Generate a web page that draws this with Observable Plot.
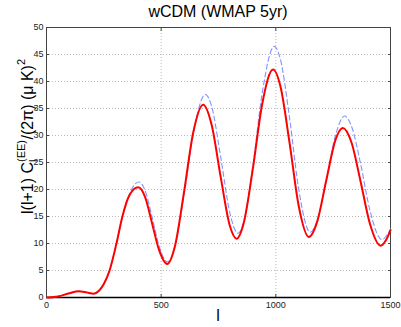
<!DOCTYPE html>
<html>
<head>
<meta charset="utf-8">
<script src="https://cdn.jsdelivr.net/npm/d3@7"></script>
<script src="https://cdn.jsdelivr.net/npm/@observablehq/plot@0.6"></script>
<style>
  body { margin: 0; background: #fff; font-family: "Liberation Sans", Arial, sans-serif; }
  #title { width: 401px; height: 22px; position: relative; }
  #title span { position: absolute; left: 46px; width: 344px; text-align: center; top: 3px; font-size: 16px; color: #000; }
</style>
</head>
<body>
<div id="title"><span>wCDM (WMAP 5yr)</span></div>
<div id="chart"></div>
<script>
// multipole l
const redL = [2, 50, 100, 140, 175, 205, 230, 250, 275, 305, 331, 360, 400, 430, 460, 490, 526, 560, 600, 640, 683, 720, 760, 800, 829, 860, 900, 940, 988, 1020, 1060, 1100, 1144, 1180, 1220, 1260, 1292, 1330, 1370, 1410, 1457, 1480, 1500];
const redC = [0.0, 0.2, 0.8, 1.17, 0.95, 0.7, 1.3, 2.5, 5.0, 10.0, 15.0, 18.8, 20.4, 18.6, 13.8, 8.9, 6.2, 9.5, 19.6, 30.6, 35.7, 32.0, 22.2, 13.2, 10.9, 13.8, 23.9, 35.7, 42.2, 39.1, 28.6, 16.9, 11.2, 14.0, 21.7, 29.2, 31.4, 28.7, 21.4, 13.7, 9.6, 10.6, 12.5];
const blueL = [2, 50, 100, 140, 175, 205, 230, 250, 275, 305, 331, 360, 403, 430, 460, 490, 528, 560, 600, 640, 693, 720, 760, 800, 835, 860, 900, 940, 993, 1020, 1060, 1100, 1150, 1180, 1220, 1260, 1300, 1330, 1370, 1410, 1463, 1480, 1500];
const blueC = [0.0, 0.2, 0.8, 1.17, 0.95, 0.7, 1.3, 2.5, 5.0, 10.0, 15.0, 19.0, 21.4, 19.8, 15.0, 9.7, 6.6, 9.4, 19.0, 30.3, 37.6, 35.4, 25.9, 15.6, 11.9, 14.0, 24.4, 37.7, 46.5, 44.1, 33.2, 20.0, 12.1, 14.2, 21.7, 30.0, 33.6, 31.7, 24.7, 16.2, 10.7, 11.3, 12.7];
const xTicks = [0, 500, 1000, 1500];
const yTicks = [0, 5, 10, 15, 20, 25, 30, 35, 40, 45, 50];

const red = redL.map((l, i) => ({l, c: redC[i]}));
const blue = blueL.map((l, i) => ({l, c: blueC[i]}));

const plot = Plot.plot({
  width: 401,
  height: 305,
  marginLeft: 46,
  marginRight: 11,
  marginTop: 5,
  marginBottom: 30,
  style: {fontFamily: "Liberation Sans, Arial, sans-serif", fontSize: "9px", color: "#222", background: "#fff"},
  x: {domain: [0, 1500], ticks: xTicks, label: null},
  y: {domain: [0, 50], ticks: yTicks, label: null},
  marks: [
    Plot.gridX(xTicks, {stroke: "#bbb", strokeOpacity: 1, strokeDasharray: "1,2"}),
    Plot.gridY(yTicks, {stroke: "#bbb", strokeOpacity: 1, strokeDasharray: "1,2"}),
    Plot.axisX(xTicks, {tickSize: -3, tickPadding: 7, stroke: "#444", tickFormat: d => String(d)}),
    Plot.axisY(yTicks, {tickSize: -3, tickPadding: 6, stroke: "#444", tickFormat: d => String(d)}),
    Plot.axisX(xTicks, {anchor: "top", tickSize: -3, tickFormat: () => "", stroke: "#444"}),
    Plot.axisY(yTicks, {anchor: "right", tickSize: -3, tickFormat: () => "", stroke: "#444"}),
    Plot.frame({stroke: "#444", strokeWidth: 1}),
    Plot.ruleY([0], {stroke: "#000", strokeWidth: 1.5}),
    Plot.line(blue, {x: "l", y: "c", stroke: "#8193ff", strokeWidth: 1.1, strokeDasharray: "5,3", curve: "monotone-x"}),
    Plot.line(red, {x: "l", y: "c", stroke: "#ff0000", strokeWidth: 2, curve: "monotone-x"})
  ]
});
document.getElementById("chart").appendChild(plot);

const svg = d3.select(plot);
// x label
svg.append("text")
  .attr("x", 218).attr("y", 299)
  .attr("text-anchor", "middle")
  .style("font-size", "16px").style("fill", "#000")
  .text("l");
// y label with super/subscripts
const yl = svg.append("text")
  .attr("transform", "translate(33,192) rotate(-90)")
  .attr("text-anchor", "start")
  .style("font-size", "16px").style("fill", "#000");
yl.append("tspan").text("l(l+1) C");
yl.append("tspan").attr("dy", -8).style("font-size", "11px").text("(EE)");
yl.append("tspan").attr("dx", -22).attr("dy", 12).style("font-size", "11px").text("l");
yl.append("tspan").attr("dx", 20).attr("dy", -4).text("/(2π) (μ K)");
yl.append("tspan").attr("dy", -8).style("font-size", "11px").text("2");
</script>
</body>
</html>
